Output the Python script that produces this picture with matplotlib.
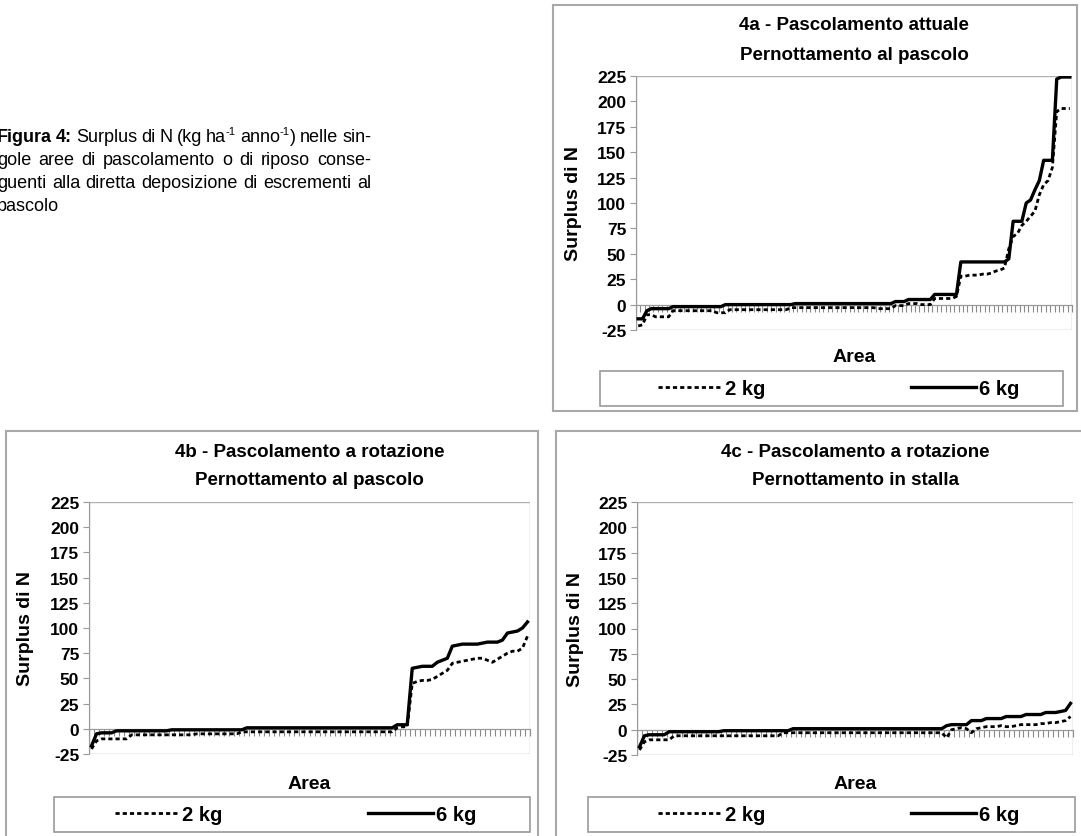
import numpy as np
import matplotlib.pyplot as plt
from matplotlib.patches import Rectangle

W, H = 1081, 837
FONT = ['Liberation Sans', 'DejaVu Sans']
GREY = '#9a9a9a'
plt.rcParams['font.family'] = FONT

# 4a - Pascolamento attuale, pernottamento al pascolo (100 aree)
a_2kg = [-21, -20, -10, -10, -12, -12, -12, -12, -6, -6,
         -6, -6, -6, -6, -6, -6, -6, -6, -8, -8,
         -8, -5, -5, -5, -5, -5, -5, -5, -5, -5,
         -5, -5, -5, -5, -5, -3, -3, -3, -3, -3,
         -3, -3, -3, -3, -3, -3, -3, -3, -3, -3,
         -3, -3, -3, -3, -3, -4, -4, -4, -4, -1,
         -1, -1, 1, 1, 1, 0, 0, 0, 6, 6,
         6, 6, 6, 8, 28, 28, 29, 29, 29, 30,
         30, 31, 33, 34, 36, 55, 67, 70, 78, 82,
         87, 92, 108, 118, 122, 135, 190, 193, 193, 193]
a_6kg = [-14, -14, -6, -4, -4, -4, -4, -4, -2, -2,
         -2, -2, -2, -2, -2, -2, -2, -2, -2, -2,
         0, 0, 0, 0, 0, 0, 0, 0, 0, 0,
         0, 0, 0, 0, 0, 0, 1, 1, 1, 1,
         1, 1, 1, 1, 1, 1, 1, 1, 1, 1,
         1, 1, 1, 1, 1, 1, 1, 1, 1, 3,
         3, 3, 5, 5, 5, 5, 5, 5, 10, 10,
         10, 10, 10, 10, 42, 42, 42, 42, 42, 42,
         42, 42, 42, 42, 42, 45, 82, 82, 82, 100,
         103, 113, 122, 142, 142, 142, 222, 224, 224, 224]

# 4b - Pascolamento a rotazione, pernottamento al pascolo (88 aree)
b_2kg = [-20, -12, -10, -10, -10, -10, -10, -10, -6, -6,
         -6, -6, -6, -6, -6, -6, -6, -6, -6, -6,
         -6, -5, -5, -5, -5, -5, -5, -5, -5, -5,
         -3, -3, -3, -3, -3, -3, -3, -3, -3, -3,
         -3, -3, -3, -3, -3, -3, -3, -3, -3, -3,
         -3, -3, -3, -3, -3, -3, -3, -3, -3, -3,
         -3, 1, 2, 2, 45, 47, 48, 48, 49, 52,
         55, 58, 65, 66, 67, 68, 69, 70, 70, 68,
         66, 69, 72, 75, 77, 77, 80, 92]
b_6kg = [-17, -5, -4, -4, -4, -2, -2, -2, -2, -2,
         -2, -2, -2, -2, -2, -2, -1, -1, -1, -1,
         -1, -1, -1, -1, -1, -1, -1, -1, -1, -1,
         -1, 1, 1, 1, 1, 1, 1, 1, 1, 1,
         1, 1, 1, 1, 1, 1, 1, 1, 1, 1,
         1, 1, 1, 1, 1, 1, 1, 1, 1, 1,
         1, 4, 4, 4, 60, 61, 62, 62, 62, 66,
         68, 70, 82, 83, 84, 84, 84, 84, 85, 86,
         86, 86, 88, 95, 96, 97, 100, 106]

# 4c - Pascolamento a rotazione, pernottamento in stalla (88 aree)
c_2kg = [-20, -12, -10, -10, -10, -10, -10, -6, -6, -6,
         -6, -6, -6, -6, -6, -6, -6, -6, -6, -6,
         -6, -6, -6, -6, -6, -6, -6, -6, -6, -3,
         -3, -3, -3, -3, -3, -3, -3, -3, -3, -3,
         -3, -3, -3, -3, -3, -3, -3, -3, -3, -3,
         -3, -3, -3, -3, -3, -3, -3, -3, -3, -3,
         -3, -3, -8, 0, 1, 2, 1, -3, 1, 2,
         3, 3, 3, 4, 3, 3, 4, 5, 5, 5,
         5, 6, 6, 7, 7, 8, 9, 13]
c_6kg = [-17, -6, -5, -5, -5, -5, -2, -2, -2, -2,
         -2, -2, -2, -2, -2, -2, -2, -1, -1, -1,
         -1, -1, -1, -1, -1, -1, -1, -1, -1, -1,
         -1, 1, 1, 1, 1, 1, 1, 1, 1, 1,
         1, 1, 1, 1, 1, 1, 1, 1, 1, 1,
         1, 1, 1, 1, 1, 1, 1, 1, 1, 1,
         1, 1, 4, 5, 5, 5, 5, 9, 9, 9,
         11, 11, 11, 11, 13, 13, 13, 13, 15, 15,
         15, 15, 17, 17, 17, 18, 19, 26]

titles = [("4a - Pascolamento attuale", "Pernottamento al pascolo"),
          ("4b - Pascolamento a rotazione", "Pernottamento al pascolo"),
          ("4c - Pascolamento a rotazione", "Pernottamento in stalla")]
yticks = [-25, 0, 25, 50, 75, 100, 125, 150, 175, 200, 225]
labels = ["2 kg", "6 kg"]

# pixel layout: axes box, panel border, legend box, title rows, ylabel x, xlabel y, legend insets
panels = [
    dict(ax=(636, 77, 1072, 331), border=(553, 6, 1077, 412), leg=(600, 372, 1063, 407),
         ty=(26, 55), ylx=573, xly=358, inset=(58, 44), data=(a_2kg, a_6kg)),
    dict(ax=(89, 503, 530, 755), border=(6, 432, 538, 845), leg=(54, 798, 530, 833),
         ty=(453, 481), ylx=26, xly=785, inset=(61, 54), data=(b_2kg, b_6kg)),
    dict(ax=(637, 503, 1073, 756), border=(556, 432, 1090, 845), leg=(588, 798, 1075, 833),
         ty=(453, 481), ylx=575, xly=785, inset=(70, 56), data=(c_2kg, c_6kg)),
]


def fbox(l, t, r, b):
    return [l / W, 1 - b / H, (r - l) / W, (b - t) / H]


fig = plt.figure(figsize=(W / 100, H / 100), dpi=100)

for p, (t1, t2) in zip(panels, titles):
    l, t, r, b = p['ax']
    ax = fig.add_axes(fbox(l, t, r, b))
    s2, s6 = p['data']
    n = len(s2)
    x = np.arange(1, n + 1)
    ln2, = ax.plot(x, s2, color='black', lw=2.0, ls=(0, (1.5, 1.1)), zorder=3)
    ln6, = ax.plot(x, s6, color='black', lw=2.4, zorder=4)
    ax.set_xlim(0.5, n + 0.5)
    ax.set_ylim(-25, 225)
    ax.set_yticks(yticks)
    ax.set_yticklabels([str(v) for v in yticks], fontsize=12.5, fontweight='bold')
    ax.set_xticks(np.arange(0.5, n + 1, 1.0))
    ax.set_xticklabels([])
    ax.tick_params(axis='x', direction='out', length=5, width=0.8, color='#8a8a8a')
    ax.tick_params(axis='y', direction='out', length=4, width=0.8, color=GREY, pad=3)
    for side in ('top', 'right'):
        ax.spines[side].set_visible(False)
    ax.spines['bottom'].set_position(('data', 0))
    ax.spines['bottom'].set_color(GREY)
    ax.spines['bottom'].set_linewidth(0.9)
    ax.spines['left'].set_color(GREY)
    ax.add_patch(Rectangle((0, 0), 1, 1, transform=ax.transAxes, fill=False,
                           edgecolor='#b0b0b0', lw=1.0, zorder=1))
    ax.set_ylabel("Surplus di N", fontsize=14, fontweight='bold', va='center')
    ax.yaxis.set_label_coords((p['ylx'] - l) / (r - l), 0.5)
    ax.set_xlabel("Area", fontsize=14, fontweight='bold', va='center')
    ax.xaxis.set_label_coords(0.5, -(p['xly'] - b) / (b - t))

    cx = (l + r) / 2 / W
    fig.text(cx, 1 - p['ty'][0] / H, t1, ha='center', va='center', fontsize=13.5, fontweight='bold')
    fig.text(cx, 1 - p['ty'][1] / H, t2, ha='center', va='center', fontsize=13.5, fontweight='bold')

    # legend
    ll, lt, lr, lb = p['leg']
    fig.patches.append(Rectangle((ll / W, 1 - lb / H), (lr - ll) / W, (lb - lt) / H,
                                 transform=fig.transFigure, fill=False, edgecolor=GREY, lw=1.2))
    il, ir = p['inset']
    ax.legend([ln2, ln6], labels, loc='center', bbox_to_anchor=fbox(ll + il, lt, lr - ir, lb),
              bbox_transform=fig.transFigure, mode='expand', ncol=2, frameon=False,
              prop={'weight': 'bold', 'size': 14.5}, handlelength=3.2, handletextpad=0.15,
              borderpad=0, borderaxespad=0)

    # chart area border
    bl, bt, br, bb = p['border']
    fig.patches.append(Rectangle((bl / W, 1 - bb / H), (br - bl) / W, (bb - bt) / H,
                                 transform=fig.transFigure, fill=False, edgecolor='#a8a8a8', lw=1.5))

# caption, justified lines
cap_lines = [
    [[("Figura", 'bold', 0)], [("4:", 'bold', 0)], [("Surplus", 'normal', 0)], [("di", 'normal', 0)],
     [("N", 'normal', 0)], [("(kg", 'normal', 0)], [("ha", 'normal', 0), ("-1", 'normal', 1)],
     [("anno", 'normal', 0), ("-1", 'normal', 1), (")", 'normal', 0)], [("nelle", 'normal', 0)],
     [("sin-", 'normal', 0)]],
    [[(w, 'normal', 0)] for w in "gole aree di pascolamento o di riposo conse-".split()],
    [[(w, 'normal', 0)] for w in "guenti alla diretta deposizione di escrementi al".split()],
    [[(w, 'normal', 0)] for w in "pascolo".split()],
]
cap_x0, cap_x1 = -3, 371
cap_base = [142, 165, 188, 211]
CAP_SIZE = 13
SUP_SIZE = 8

renderer = fig.canvas.get_renderer()


def pw(s, weight, sup):
    tt = fig.text(0, 0, s, fontsize=SUP_SIZE if sup else CAP_SIZE, fontweight=weight)
    w = tt.get_window_extent(renderer).width
    tt.remove()
    return w


space_w = pw("a a", 'normal', 0) - pw("aa", 'normal', 0)
for i, (words, yb) in enumerate(zip(cap_lines, cap_base)):
    widths = [sum(pw(s, wt, sp) for s, wt, sp in word) for word in words]
    if i < len(cap_lines) - 1 and len(words) > 1:
        gap = (cap_x1 - cap_x0 - sum(widths)) / (len(words) - 1)
    else:
        gap = space_w
    xp = cap_x0
    for word, ww in zip(words, widths):
        xx = xp
        for s, wt, sp in word:
            yy = yb - 7 if sp else yb
            fig.text(xx / W, 1 - yy / H, s, fontsize=SUP_SIZE if sp else CAP_SIZE,
                     fontweight=wt, va='baseline', ha='left')
            xx += pw(s, wt, sp)
        xp += ww + gap

fig.savefig("out.png", dpi=100)
